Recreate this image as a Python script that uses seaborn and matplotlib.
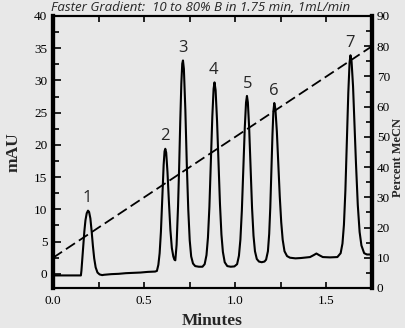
import matplotlib
matplotlib.use("Agg")
import matplotlib.pyplot as plt
from matplotlib.ticker import MultipleLocator
import seaborn as sns

# ---------------- data ----------------
time_min = [0.000, 0.153, 0.156, 0.160, 0.166, 0.172, 0.178, 0.185, 0.192, 0.198,
            0.205, 0.212, 0.219, 0.226, 0.234, 0.244, 0.256, 0.270, 0.280, 0.320,
            0.360, 0.400, 0.440, 0.480, 0.520, 0.560, 0.570,
            0.578, 0.585, 0.592, 0.600, 0.607, 0.612, 0.616, 0.621, 0.628, 0.636,
            0.644, 0.652, 0.660, 0.666, 0.671,
            0.678, 0.686, 0.692, 0.698, 0.704, 0.709, 0.713, 0.718, 0.726, 0.734,
            0.742, 0.750, 0.758, 0.768, 0.780, 0.800, 0.820,
            0.832, 0.842, 0.850, 0.858, 0.866, 0.874, 0.881, 0.886, 0.892, 0.900,
            0.908, 0.916, 0.924, 0.932, 0.942, 0.956, 0.975, 0.995,
            1.010, 1.020, 1.028, 1.036, 1.044, 1.052, 1.059, 1.064, 1.069, 1.076,
            1.084, 1.092, 1.100, 1.108, 1.118, 1.130, 1.145, 1.160,
            1.169, 1.179, 1.186, 1.192, 1.198, 1.204, 1.209, 1.214, 1.220, 1.228,
            1.236, 1.244, 1.252, 1.260, 1.270, 1.284,
            1.300, 1.330, 1.360, 1.390, 1.410, 1.430, 1.445, 1.460, 1.480, 1.520,
            1.560, 1.578,
            1.588, 1.596, 1.604, 1.612, 1.620, 1.627, 1.632, 1.638, 1.646, 1.654,
            1.662, 1.672, 1.682, 1.692, 1.707, 1.722, 1.750]
signal_mau = [-0.25, -0.25, 0.5, 2.0, 4.3, 6.6, 8.3, 9.4, 9.8, 9.6,
              8.6, 6.6, 4.3, 2.4, 1.0, 0.2, -0.1, -0.2, -0.15, -0.05,
              0.0, 0.1, 0.15, 0.2, 0.3, 0.35, 0.45,
              1.4, 3.2, 6.5, 12.1, 16.9, 19.0, 19.4, 18.8, 15.8, 11.1,
              6.8, 4.0, 2.7, 2.2, 2.1,
              4.5, 10.5, 16.5, 23.5, 29.5, 32.6, 33.1, 31.8, 25.5, 17.0,
              10.0, 5.2, 2.7, 1.6, 1.2, 1.1, 1.1,
              1.5, 2.9, 5.6, 10.4, 17.2, 24.4, 28.7, 29.7, 28.5, 23.7,
              17.1, 10.8, 6.1, 3.4, 1.8, 1.2, 1.1, 1.15,
              1.5, 2.8, 5.3, 9.8, 16.0, 22.6, 26.6, 27.6, 26.6, 22.7,
              16.3, 10.2, 5.9, 3.5, 2.3, 1.9, 1.8, 1.9,
              2.2, 3.5, 6.2, 10.3, 15.8, 21.6, 25.2, 26.5, 25.6, 22.1,
              17.1, 12.0, 8.0, 5.3, 3.5, 2.75,
              2.5, 2.4, 2.45, 2.55, 2.6, 2.9, 3.15, 2.9, 2.6, 2.55,
              2.6, 3.2,
              4.7, 7.6, 12.9, 20.3, 28.1, 32.8, 33.9, 32.9, 29.1, 23.3,
              17.2, 10.7, 6.5, 4.4, 3.2, 3.0, 3.0]

grad_time = [0.0, 1.75]
grad_pct = [10, 80]

peak_labels = ["1", "2", "3", "4", "5", "6", "7"]
peak_rt = [0.190, 0.612, 0.713, 0.882, 1.066, 1.214, 1.630]
peak_height = [9.8, 19.4, 33.1, 29.7, 27.6, 26.5, 33.9]

title_text = "Faster Gradient:  10 to 80% B in 1.75 min, 1mL/min"

# ---------------- styling ----------------
bg = "#e8e8e8"
sns.set_style("ticks")
plt.rcParams["font.family"] = ["Liberation Serif", "DejaVu Serif"]
plt.rcParams["axes.edgecolor"] = "black"
plt.rcParams["xtick.color"] = "black"
plt.rcParams["ytick.color"] = "black"

W, H = 406, 328
fig = plt.figure(figsize=(W / 100, H / 100), dpi=100, facecolor=bg)
ax = fig.add_axes([53 / W, 1 - 288 / H, 319 / W, 272 / H])
ax.set_facecolor(bg)

sns.lineplot(x=time_min, y=signal_mau, ax=ax, color="black", lw=1.5,
             sort=False, estimator=None)

ax2 = ax.twinx()
sns.lineplot(x=grad_time, y=grad_pct, ax=ax2, color="black", lw=1.3,
             sort=False, estimator=None)
ax2.lines[0].set_dashes([6, 2.6])

ax.set_xlim(0, 1.75)
ax.set_ylim(-2.2, 40)
ax2.set_ylim(0, 90)

ax.xaxis.set_major_locator(MultipleLocator(0.5))
ax.xaxis.set_minor_locator(MultipleLocator(0.25))
ax.yaxis.set_major_locator(MultipleLocator(5))
ax.yaxis.set_minor_locator(MultipleLocator(2.5))
ax2.yaxis.set_major_locator(MultipleLocator(10))
ax2.yaxis.set_minor_locator(MultipleLocator(5))
ax.xaxis.set_major_formatter(matplotlib.ticker.FormatStrFormatter("%.1f"))

ax.tick_params(axis="x", which="both", direction="in", top=True, bottom=True,
               length=4, width=1.2, labelsize=9.5, pad=5)
ax.tick_params(axis="y", which="major", direction="in", left=True, right=False,
               length=6, width=1.2, labelsize=9.5, pad=4)
ax.tick_params(axis="y", which="minor", direction="in", left=True, right=False,
               length=4, width=1.2)
ax2.tick_params(axis="y", which="major", direction="in", right=True,
                length=6, width=1.2, labelsize=9.5, pad=3.5)
ax2.tick_params(axis="y", which="minor", direction="in", right=True,
                length=4, width=1.2)

for a in (ax, ax2):
    a.spines["left"].set_linewidth(3.0)
    a.spines["right"].set_linewidth(3.0)
    a.spines["top"].set_linewidth(1.5)
    a.spines["bottom"].set_linewidth(1.5)
    for s in a.spines.values():
        s.set_color("black")
        s.set_visible(True)

ax.set_xlabel("Minutes", fontsize=12.5, fontweight="bold")
ax.xaxis.set_label_coords(0.5, -0.092)
ax.set_ylabel("mAU", fontsize=12.5, fontweight="bold")
ax.yaxis.set_label_coords(-0.10, 0.5)
ax2.set_ylabel("Percent MeCN", fontsize=9, fontweight="bold")
ax2.yaxis.set_label_coords(1.064, 0.48)

for lab, rt, h in zip(peak_labels, peak_rt, peak_height):
    ax.annotate(lab, xy=(rt, h), xytext=(0, 6), textcoords="offset points",
                ha="center", va="baseline", fontsize=12,
                family=["Open Sans", "DejaVu Sans"])

fig.text(350 / W, 1 - 1 / H, title_text, ha="right", va="top",
         fontsize=9.5, style="italic", family=["Open Sans", "DejaVu Sans"])

fig.savefig("out.png", dpi=100, facecolor=bg)
